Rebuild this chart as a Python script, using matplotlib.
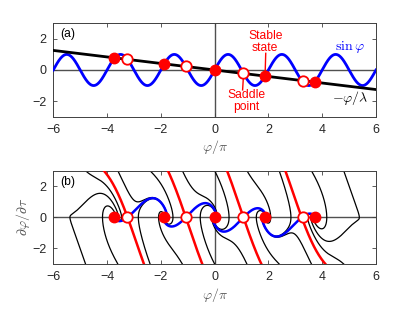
import numpy as np
import matplotlib
matplotlib.use("Agg")
import matplotlib.pyplot as plt

# ---- data / parameters ----
lam = 15.0          # slope of the straight line: -phi/lambda
gamma = 1.05        # damping used for the phase portrait
xlim = (-6, 6)
ylim = (-3, 3)
xticks = [-6, -4, -2, 0, 2, 4, 6]
yticks = [-2, 0, 2]
stable_x = [-3.73, -1.87, 0.0, 1.87, 3.73]      # phi/pi of stable states
saddle_x = [-3.27, -1.07, 1.07, 3.27]           # phi/pi of saddle points
start_x = [-4.8, -3.6, -2.4, -1.2, 0.0, 1.2, 2.4, 3.6, 4.8]  # black trajectories start (phi/pi) at v=+-3
start_v = [3.0, -3.0]

plt.rcParams['font.family'] = ['Liberation Sans', 'DejaVu Sans']
plt.rcParams['mathtext.fontset'] = 'cm'
FS = 9.0
FA = 8.7
GRAY = '#262626'
AX = '#404040'
RED = '#ff0000'
BLUE = '#0000ff'

fig = plt.figure(figsize=(4.15, 3.12), dpi=100)
axa = fig.add_axes([0.1284, 0.626, 0.7776, 0.2994])
axb = fig.add_axes([0.1284, 0.1538, 0.7776, 0.299])

def style(ax):
    ax.set_xlim(*xlim); ax.set_ylim(*ylim)
    ax.set_xticks(xticks); ax.set_yticks(yticks)
    ax.tick_params(direction='in', length=3, width=0.6, top=True, right=True,
                   labelsize=FS, colors=AX, labelcolor=GRAY, pad=5)
    for s in ax.spines.values():
        s.set_color(AX); s.set_linewidth(0.7)
    ax.axhline(0, color='#505050', lw=1.0, zorder=1)
    ax.axvline(0, color='#505050', lw=1.0, zorder=1)
    ax.set_xlabel(r'$\varphi/\pi$', fontsize=10, color='#555555', labelpad=2)

def force(phi, v):
    return -gamma * v - np.sin(phi) - phi / lam

def rk4(phi, v, dt, n, vmax=None):
    P = [phi]; V = [v]
    for _ in range(n):
        k1p = v; k1v = force(phi, v)
        k2p = v + 0.5*dt*k1v; k2v = force(phi + 0.5*dt*k1p, v + 0.5*dt*k1v)
        k3p = v + 0.5*dt*k2v; k3v = force(phi + 0.5*dt*k2p, v + 0.5*dt*k2v)
        k4p = v + dt*k3v; k4v = force(phi + dt*k3p, v + dt*k3v)
        phi = phi + dt/6*(k1p + 2*k2p + 2*k3p + k4p)
        v = v + dt/6*(k1v + 2*k2v + 2*k3v + k4v)
        P.append(phi); V.append(v)
        if vmax is not None and abs(v) > vmax:
            break
    return np.array(P), np.array(V)

def refine(x0):
    p = x0 * np.pi
    for _ in range(30):
        p -= (np.sin(p) + p / lam) / (np.cos(p) + 1 / lam)
    return p

# ---- panel (a) ----
style(axa)
xs = np.linspace(-6, 6, 1200)
axa.plot(xs, np.sin(np.pi * xs), color=BLUE, lw=2, zorder=3)
axa.plot(xs, -np.pi * xs / lam, color='black', lw=2, zorder=4)
sx = np.array(stable_x); dx = np.array(saddle_x)
axa.plot(sx, -np.pi * sx / lam, 'o', ms=7.5, mfc=RED, mec=RED, zorder=6)
axa.plot(dx, -np.pi * dx / lam, 'o', ms=7.5, mfc='white', mec=RED, mew=1.3, zorder=6)
axa.text(-5.75, 2.3, '(a)', fontsize=FA, color='black', va='center')
axa.text(5.03, 1.5, r'$\sin\varphi$', fontsize=10, color=BLUE, ha='center', va='center')
axa.text(5.05, -1.82, r'$-\varphi/\lambda$', fontsize=10, color='black', ha='center', va='center')
axa.text(1.88, 1.8, 'Stable\nstate', fontsize=FA, color=RED, ha='center', va='center', linespacing=0.95)
axa.plot([1.9, 1.88], [1.07, -0.1], color=RED, lw=1, zorder=5)
axa.text(1.17, -2.0, 'Saddle\npoint', fontsize=FA, color=RED, ha='center', va='center', linespacing=0.95)
axa.plot([1.07, 1.04], [-0.43, -1.28], color=RED, lw=1, zorder=5)

# ---- panel (b) ----
style(axb)
axb.set_ylabel(r'$\partial\varphi/\partial\tau$', fontsize=10, color='#555555', labelpad=0)
axb.text(-5.75, 2.3, '(b)', fontsize=FA, color='black', va='center')

dt = 0.01
for v0 in start_v:
    for x0 in start_x:
        P, V = rk4(x0 * np.pi, v0, dt, 6000)
        axb.plot(P / np.pi, V, color='black', lw=0.9, zorder=2)

eps = 1e-4
for x0 in saddle_x:
    ps = refine(x0)
    k = -(np.cos(ps) + 1 / lam)
    lu = (-gamma + np.sqrt(gamma**2 + 4*k)) / 2
    ls = (-gamma - np.sqrt(gamma**2 + 4*k)) / 2
    for sgn in (1, -1):
        P, V = rk4(ps + sgn*eps, sgn*eps*lu, dt, 8000)
        axb.plot(P / np.pi, V, color=BLUE, lw=1.8, zorder=3)
        P, V = rk4(ps + sgn*eps, sgn*eps*ls, -dt, 8000, vmax=3.5)
        axb.plot(P / np.pi, V, color=RED, lw=1.8, zorder=4)

axb.plot(sx, 0*sx, 'o', ms=7.5, mfc=RED, mec=RED, zorder=6)
axb.plot(dx, 0*dx, 'o', ms=7.5, mfc='white', mec=RED, mew=1.3, zorder=6)

fig.savefig('out.png', dpi=100)
